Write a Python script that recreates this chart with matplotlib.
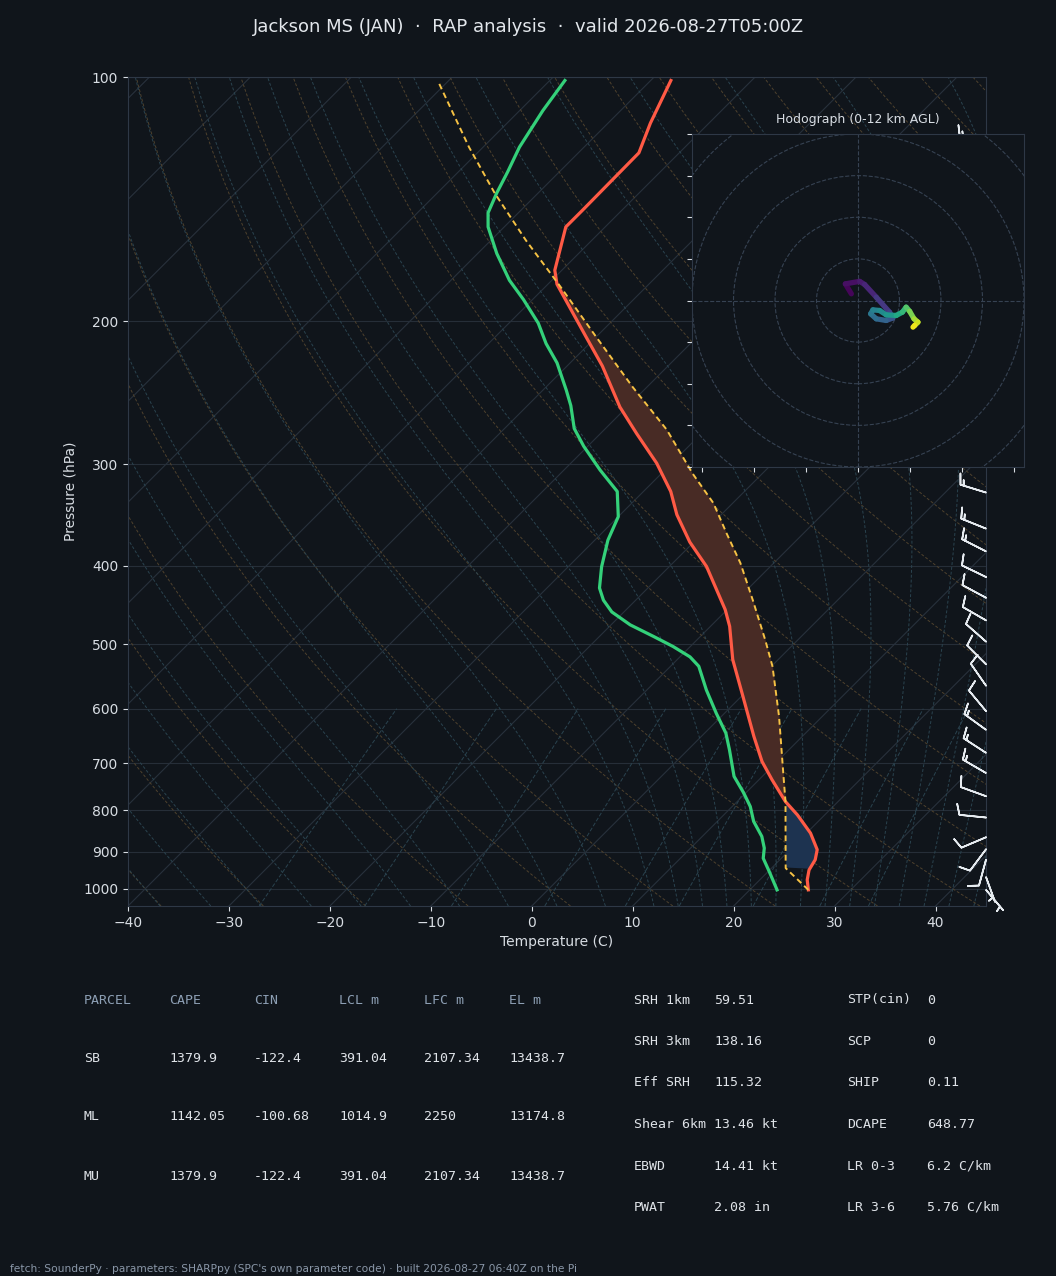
import numpy as np
import matplotlib
matplotlib.use("Agg")
import matplotlib.pyplot as plt
from matplotlib.collections import LineCollection
from matplotlib.ticker import FixedLocator, NullLocator, FuncFormatter

# ---- sounding (hPa, degC) ----
temp_p = [1003, 975, 948, 921, 895, 854, 811, 781, 734, 697, 649, 580, 522, 475, 453,
          401, 374, 346, 324, 299, 275, 255, 227, 209, 180, 173, 153, 146, 124, 114, 101]
temp_t = [25.8, 24.7, 23.9, 23.5, 22.7, 20.4, 17.3, 14.8, 11.3, 8.5, 5.2, 0.2, -4.5, -8.1, -10.2,
          -16.3, -20.4, -24.4, -27.3, -31.5, -36.4, -40.7, -46.5, -51.0, -59.1, -60.7, -63.9, -63.9,
          -64.0, -65.8, -68.0]

dewp_p = [1003, 952, 917, 891, 862, 826, 792, 762, 727, 674, 643, 608, 569, 532, 518, 503, 489,
          473, 456, 441, 426, 401, 372, 348, 324, 305, 285, 271, 254, 243, 225, 213, 201, 188,
          178, 165, 153, 147, 139, 131, 122, 110, 101]
dewp_t = [22.7, 20.1, 18.2, 17.3, 15.9, 13.6, 11.8, 9.8, 7.2, 4.1, 2.1, -0.8, -4.1, -7.2, -9.0,
          -11.7, -14.6, -18.1, -21.2, -23.2, -24.8, -26.7, -28.7, -30.0, -32.6, -36.4, -40.4,
          -43.1, -45.7, -47.7, -51.3, -54.3, -57.1, -60.9, -64.2, -68.1, -71.6, -73.0, -74.1,
          -75.1, -76.4, -77.7, -78.5]

parcel_p = [1003, 943, 781, 727, 613, 532, 494, 441, 397, 365, 335, 308, 272, 241, 209, 181,
            159, 139, 122, 101]
parcel_t = [25.8, 21.4, 14.8, 12.1, 5.7, 0.1, -3.2, -8.4, -13.3, -17.6, -21.9, -26.9, -33.8,
            -41.4, -50.0, -58.6, -66.5, -74.3, -81.4, -91.1]

# wind barbs (kt)
barb_p = [120, 131, 142, 154, 167, 181, 196, 212, 230, 249, 270, 292, 325, 360, 384, 413, 438,
          467, 496, 529, 562, 604, 637, 680, 720, 769, 817, 864, 894, 921, 967, 1003]
barb_u = [16, 18, 18, 16, 15, 15, 14, 14, 13, 13, 13, 14, 14.3, 13.9, 13.4, 9.9, 9.7, 8.7, 7.5,
          7.1, 5.7, 6.4, 11.3, 11.7, 12.1, 9.4, 9.9, 9.2, 5.4, 2.1, -1.7, -3.2]
barb_v = [-3, -4, -5, -5, -4, -4, -3, -3, -3, -3, -3, -4, -4.4, -5.6, -6.8, -4.8, -5.2, -5.0,
          -6.6, -7.1, -8.2, -7.7, -8.2, -7.6, -7.0, -3.4, -1.0, 3.9, 7.2, 7.7, 4.7, 3.8]

# hodograph 0-12 km (kt) and height (km)
hodo_u = [-1.6, -3.05, 0.4, 1.6, 4.4, 7.6, 8.4, 6.8, 4.4, 3.05, 3.6, 5.2, 6.8, 9.2, 10.7, 11.6,
          12.45, 13.5, 14.45, 13.65, 13.25]
hodo_v = [1.6, 4.0, 4.6, 3.85, 0.8, -2.8, -4.2, -4.8, -4.4, -3.2, -2.25, -2.4, -3.45, -3.6, -2.8,
          -1.6, -2.6, -4.4, -5.2, -6.0, -6.4]
hodo_z = [0.0, 0.3, 0.7, 1.0, 1.6, 2.3, 2.9, 3.5, 4.0, 4.5, 5.0, 5.5, 6.0, 6.8, 7.6, 8.4, 9.2,
          10.0, 10.8, 11.4, 12.0]

# parameter tables
parcel_names = ["SB", "ML", "MU"]
parcel_cape = [1379.9, 1142.05, 1379.9]
parcel_cin = [-122.4, -100.68, -122.4]
parcel_lcl = [391.04, 1014.9, 391.04]
parcel_lfc = [2107.34, 2250, 2107.34]
parcel_el = [13438.7, 13174.8, 13438.7]
kin_names = ["SRH 1km", "SRH 3km", "Eff SRH", "Shear 6km", "EBWD", "PWAT"]
kin_vals = ["59.51", "138.16", "115.32", "13.46 kt", "14.41 kt", "2.08 in"]
comp_names = ["STP(cin)", "SCP", "SHIP", "DCAPE", "LR 0-3", "LR 3-6"]
comp_vals = ["0", "0", "0.11", "648.77", "6.2 C/km", "5.76 C/km"]

title = "Jackson MS (JAN)  \u00b7  RAP analysis  \u00b7  valid 2026-08-27T05:00Z"
footer = ("fetch: SounderPy \u00b7 parameters: SHARPpy (SPC's own parameter code) \u00b7 "
          "built 2026-08-27 06:40Z on the Pi")

BG = "#10151b"
FG = "#d8dde3"
SPINE = "#2e3846"
GRID = "#262e38"

W, H = 1056, 1276
P_BOT, P_TOP = 1050, 100
T_MIN, T_MAX = -40, 45
AX_L, AX_R, AX_T, AX_B = 128, 986, 77, 906

# degrees C shifted per decade of pressure so that isotherms sit at 45 deg
SKEW = ((AX_B - AX_T) / np.log10(P_BOT / P_TOP)) / ((AX_R - AX_L) / (T_MAX - T_MIN))


def skew_x(t, p):
    return np.asarray(t, float) + SKEW * np.log10(P_BOT / np.asarray(p, float))


def moist_lapse(p, t):
    es = 6.112 * np.exp(17.67 * (t - 273.15) / (t - 29.65))
    rs = 0.622 * es / (p - es)
    return (287.04 * t + 2.501e6 * rs) / (p * (1005.7 + 2.501e6 ** 2 * rs * 0.622 / (287.04 * t * t)))


def integrate_moist(t0, p_path):
    out = [t0]
    t = t0
    for p1, p2 in zip(p_path[:-1], p_path[1:]):
        h = p2 - p1
        k1 = moist_lapse(p1, t)
        k2 = moist_lapse(p1 + h / 2, t + h / 2 * k1)
        k3 = moist_lapse(p1 + h / 2, t + h / 2 * k2)
        k4 = moist_lapse(p2, t + h * k3)
        t = t + h / 6 * (k1 + 2 * k2 + 2 * k3 + k4)
        out.append(t)
    return np.array(out)


plt.rcParams['font.family'] = ['DejaVu Sans']
fig = plt.figure(figsize=(W / 100, H / 100), dpi=100, facecolor=BG)
ax = fig.add_axes([AX_L / W, 1 - AX_B / H, (AX_R - AX_L) / W, (AX_B - AX_T) / H], facecolor=BG)
ax.set_yscale('log')
ax.set_ylim(P_BOT, P_TOP)
ax.set_xlim(T_MIN, T_MAX)

# background lines
pp = np.geomspace(P_BOT, P_TOP, 200)
for t in np.arange(-130, 50, 10):
    ax.plot(skew_x(np.full(2, t), [P_BOT, P_TOP]), [P_BOT, P_TOP], color="#28313c", lw=0.8, zorder=1)

for t0 in np.arange(-40, 201, 10):
    td = (t0 + 273.15) * (pp / 1000.0) ** 0.2857 - 273.15
    ax.plot(skew_x(td, pp), pp, color="#4e412d", lw=0.7, ls='--', dashes=(3, 2), zorder=1)

moist_t0 = np.concatenate((np.arange(-40, 10.1, 5), np.arange(12.5, 45.1, 2.5)))
p_up = np.geomspace(1000, P_TOP, 200)
p_dn = np.geomspace(1000, P_BOT, 10)
for t0 in moist_t0:
    tu = integrate_moist(t0 + 273.15, p_up) - 273.15
    tdn = integrate_moist(t0 + 273.15, p_dn) - 273.15
    pm = np.concatenate((p_dn[::-1], p_up[1:]))
    tm = np.concatenate((tdn[::-1], tu[1:]))
    ax.plot(skew_x(tm, pm), pm, color="#2a434f", lw=0.7, ls='--', dashes=(3, 2), zorder=1)

pw = np.geomspace(P_BOT, 600, 30)
for w in [0.0004, 0.001, 0.002, 0.004, 0.007, 0.01, 0.016, 0.024, 0.032]:
    e = pw * w / (0.622 + w)
    lg = np.log(e / 6.112)
    tdw = 243.5 * lg / (17.67 - lg)
    ax.plot(skew_x(tdw, pw), pw, color="#2a434f", lw=0.7, ls='--', dashes=(4, 2), zorder=1)

# CAPE / CIN shading
gp = np.geomspace(temp_p[0], P_TOP + 2, 600)
ti = np.interp(-np.log(gp), -np.log(temp_p), temp_t)
pi = np.interp(-np.log(gp), -np.log(parcel_p), parcel_t)
xt, xp = skew_x(ti, gp), skew_x(pi, gp)
pos = pi > ti
lfc_p = gp[np.argmax(pos)]
cin = (~pos) & (gp <= parcel_p[1]) & (gp >= lfc_p)
ax.fill_betweenx(gp, xt, xp, where=pos, interpolate=True, color="#482b25", lw=0, zorder=2)
ax.fill_betweenx(gp, xt, xp, where=cin, interpolate=True, color="#1d3350", lw=0, zorder=2)

# profiles
ax.plot(skew_x(temp_t, temp_p), temp_p, color="#ff5a45", lw=2.3, zorder=5)
ax.plot(skew_x(dewp_t, dewp_p), dewp_p, color="#34d17a", lw=2.3, zorder=5)
ax.plot(skew_x(parcel_t, parcel_p), parcel_p, color="#f6c244", lw=1.4, ls='--', dashes=(3, 2), zorder=6)

# barbs on the right edge
ax.barbs(np.full(len(barb_p), T_MAX), barb_p, barb_u, barb_v, color="#e6ebf0", lw=1.2,
         length=6.2, clip_on=False, zorder=7)

ax.yaxis.set_major_locator(FixedLocator(np.arange(100, 1001, 100)))
ax.yaxis.set_minor_locator(NullLocator())
ax.yaxis.set_major_formatter(FuncFormatter(lambda v, _: f"{v:.0f}"))
ax.set_xticks(np.arange(-40, 41, 10))
ax.grid(axis='y', color=GRID, lw=0.8)
ax.set_axisbelow(True)
ax.tick_params(colors=FG, labelsize=10)
for s in ax.spines.values():
    s.set_color(SPINE)
ax.set_xlabel("Temperature (C)", color=FG, fontsize=10)
ax.set_ylabel("Pressure (hPa)", color=FG, fontsize=10)

fig.text(0.5, 1 - 27 / H, title, ha='center', va='center', color="#e3e7ec", fontsize=13)

# hodograph inset
hx = fig.add_axes([692 / W, 1 - 467 / H, 332 / W, 333 / H], facecolor=BG, zorder=10)
hx.set_xlim(-40, 40)
hx.set_ylim(-40, 40)
for r in [10, 20, 30, 40, 50]:
    hx.add_patch(plt.Circle((0, 0), r, fill=False, color="#364252", lw=0.8, ls='--'))
hx.axhline(0, color="#364252", lw=0.8, ls='--')
hx.axvline(0, color="#364252", lw=0.8, ls='--')
pts = np.column_stack([hodo_u, hodo_v]).reshape(-1, 1, 2)
segs = np.concatenate([pts[:-1], pts[1:]], axis=1)
lc = LineCollection(segs, cmap='viridis', norm=plt.Normalize(0, 12), lw=3.8, capstyle='round')
lc.set_array(0.5 * (np.array(hodo_z[:-1]) + np.array(hodo_z[1:])))
hx.add_collection(lc)
hx.set_xticks(np.arange(-37.5, 40, 12.5))
hx.set_yticks(np.arange(-40, 41, 10))
hx.tick_params(colors=FG, labelleft=False, labelbottom=False)
for s in hx.spines.values():
    s.set_color(SPINE)
hx.set_title("Hodograph (0-12 km AGL)", color=FG, fontsize=9, pad=8)

# parameter tables
mono = dict(family='DejaVu Sans Mono', fontsize=9.5, va='center')
cols = [84, 169, 254, 339, 424, 509]
for x, lab in zip(cols, ["PARCEL", "CAPE", "CIN", "LCL m", "LFC m", "EL m"]):
    fig.text(x / W, 1 - 1000 / H, lab, color="#8d9fb4", **mono)
for i, row in enumerate(zip(parcel_names, parcel_cape, parcel_cin, parcel_lcl, parcel_lfc, parcel_el)):
    y = 1058 + i * 59
    for x, v in zip(cols, row):
        fig.text(x / W, 1 - y / H, str(v), color="#dfe3e8", **mono)

for i in range(len(kin_names)):
    y = 1000 + i * 41.5
    fig.text(634 / W, 1 - y / H, kin_names[i], color="#dfe3e8", **mono)
    fig.text(714 / W, 1 - y / H, kin_vals[i], color="#dfe3e8", **mono)
    fig.text(847 / W, 1 - y / H, comp_names[i], color="#dfe3e8", **mono)
    fig.text(927 / W, 1 - y / H, comp_vals[i], color="#dfe3e8", **mono)

fig.text(10 / W, 1 - 1269 / H, footer, color="#8a97a8", fontsize=7.7, va='center')

fig.savefig("out.png", dpi=100, facecolor=BG)
